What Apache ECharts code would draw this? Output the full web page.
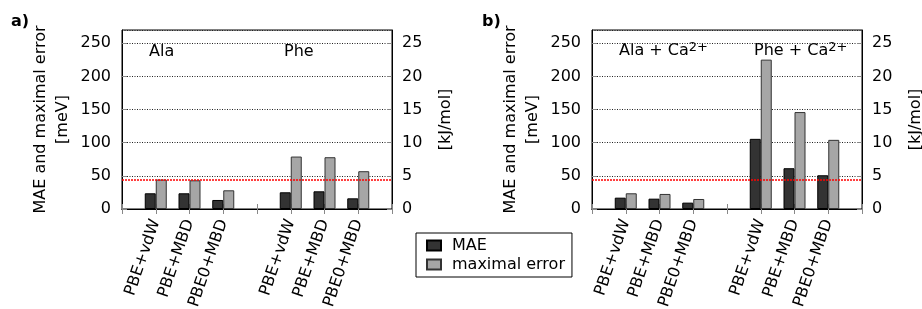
<!DOCTYPE html>
<html>
<head>
<meta charset="utf-8">
<script src="https://cdn.jsdelivr.net/npm/echarts@6/dist/echarts.min.js"></script>
<style>
  html, body { margin: 0; padding: 0; background: #fff; }
  #chart { width: 922px; height: 309px; }
</style>
</head>
<body>
<div id="chart"></div>
<script>
// 类别（空字符串为占位，用于两组之间的间隔）
const categories = ['', 'PBE+vdW', 'PBE+MBD', 'PBE0+MBD', '', 'PBE+vdW', 'PBE+MBD', 'PBE0+MBD', '']

// a) Ala / Phe
const maeA = [null, 23.7, 23.7, 13.6, null, 25.2, 26.7, 16.1, null]
const maxErrA = [null, 44.4, 43.3, 28.2, null, 79.1, 78.1, 57.0, null]

// b) Ala + Ca2+ / Phe + Ca2+
const maeB = [null, 17.1, 15.6, 9.6, null, 105.8, 61.5, 50.9, null]
const maxErrB = [null, 23.7, 22.7, 15.1, null, 225.3, 146.2, 104.3, null]

// 1 kcal/mol 参考线 (meV)
const refLine = 43.4

const font = 'DejaVu Sans'
const fs = 16
const chart = echarts.init(document.getElementById('chart'))

const grids = [
  { left: 122, top: 30, width: 270, height: 179 },
  { left: 592, top: 30, width: 270, height: 179 }
]

const makeXAxes = function (gridIndex) {
  return [
    {
      type: 'category',
      gridIndex: gridIndex,
      data: categories,
      boundaryGap: false,
      axisLine: { lineStyle: { color: '#000', width: 1 } },
      axisTick: { inside: true, length: 5, interval: 0, lineStyle: { color: '#888' } },
      axisLabel: { interval: 0, rotate: 71, fontSize: fs, color: '#000', fontFamily: font, margin: 11 }
    },
    {
      type: 'category',
      gridIndex: gridIndex,
      position: 'top',
      data: categories,
      boundaryGap: false,
      axisLine: { lineStyle: { color: '#000', width: 1 } },
      axisTick: { inside: true, length: 5, interval: 0, lineStyle: { color: '#888' } },
      axisLabel: { show: false }
    }
  ]
}

const makeYAxes = function (gridIndex) {
  return [
    {
      type: 'value',
      gridIndex: gridIndex,
      min: 0,
      max: 270,
      interval: 50,
      name: 'MAE and maximal error\n[meV]',
      nameLocation: 'middle',
      nameRotate: 90,
      nameGap: 48,
      nameTextStyle: { fontSize: fs, color: '#000', fontFamily: font, lineHeight: 22 },
      axisLine: { show: true, lineStyle: { color: '#000', width: 1 } },
      axisTick: { show: true, inside: true, length: 5, lineStyle: { color: '#888' } },
      axisLabel: { fontSize: fs, color: '#000', fontFamily: font, margin: 11, showMaxLabel: false },
      splitLine: { show: true, lineStyle: { color: '#222', type: [1, 1.5], width: 1 } }
    },
    {
      type: 'value',
      gridIndex: gridIndex,
      position: 'right',
      min: 0,
      max: 27,
      interval: 5,
      name: '[kJ/mol]',
      nameLocation: 'middle',
      nameRotate: 90,
      nameGap: 46,
      nameTextStyle: { fontSize: fs, color: '#000', fontFamily: font },
      axisLine: { show: true, lineStyle: { color: '#000', width: 1 } },
      axisTick: { show: true, inside: true, length: 5, lineStyle: { color: '#888' } },
      axisLabel: { fontSize: fs, color: '#000', fontFamily: font, margin: 10, showMaxLabel: false },
      splitLine: { show: false }
    }
  ]
}

const makeSeries = function (gridIndex, mae, maxErr) {
  return [
    {
      name: 'MAE',
      type: 'bar',
      xAxisIndex: gridIndex * 2,
      yAxisIndex: gridIndex * 2,
      data: mae,
      barWidth: 11,
      barGap: '0%',
      itemStyle: { color: '#333', borderColor: '#000', borderWidth: 1 },
      markLine: {
        silent: true,
        symbol: 'none',
        label: { show: false },
        lineStyle: { color: '#ff0000', type: [2, 1], width: 1.5 },
        data: [{ yAxis: refLine }]
      }
    },
    {
      name: 'maximal error',
      type: 'bar',
      xAxisIndex: gridIndex * 2,
      yAxisIndex: gridIndex * 2,
      data: maxErr,
      barWidth: 11,
      barGap: '0%',
      itemStyle: { color: '#a6a6a6', borderColor: '#333', borderWidth: 1 }
    }
  ]
}

const textEl = function (x, y, text, extra) {
  return {
    type: 'text',
    left: x,
    top: y,
    style: Object.assign({ text: text, fontSize: fs, fontFamily: font, fill: '#000' }, extra || {})
  }
}

const supRich = {
  sup: { fontSize: 13, verticalAlign: 'top', fontFamily: font, fill: '#000' }
}

const option = {
  animation: false,
  textStyle: { fontFamily: font },
  grid: grids.map(g => Object.assign({
    show: true,
    borderColor: '#000',
    borderWidth: 1,
    backgroundColor: '#fff',
    containLabel: false,
    outerBoundsMode: 'none'
  }, g)),
  xAxis: makeXAxes(0).concat(makeXAxes(1)),
  yAxis: makeYAxes(0).concat(makeYAxes(1)),
  legend: {
    data: ['MAE', 'maximal error'],
    orient: 'vertical',
    left: 416,
    top: 233,
    borderColor: '#000',
    borderWidth: 1,
    borderRadius: 0,
    padding: [3, 7, 3, 10],
    itemGap: 0,
    itemWidth: 14,
    itemHeight: 10,
    icon: 'rect',
    textStyle: { fontSize: fs, color: '#000', fontFamily: font, padding: [0, 0, 0, 6], lineHeight: 19 }
  },
  graphic: [
    textEl(11, 14, 'a)', { fontWeight: 'bold', fontSize: 16 }),
    textEl(482, 14, 'b)', { fontWeight: 'bold', fontSize: 16 }),
    textEl(149, 44, 'Ala'),
    textEl(284, 44, 'Phe'),
    textEl(619, 41, 'Ala + Ca{sup|2+}', { rich: supRich, lineHeight: 20 }),
    textEl(754, 41, 'Phe + Ca{sup|2+}', { rich: supRich, lineHeight: 20 })
  ],
  series: makeSeries(0, maeA, maxErrA).concat(makeSeries(1, maeB, maxErrB))
}

chart.setOption(option)
</script>
</body>
</html>
